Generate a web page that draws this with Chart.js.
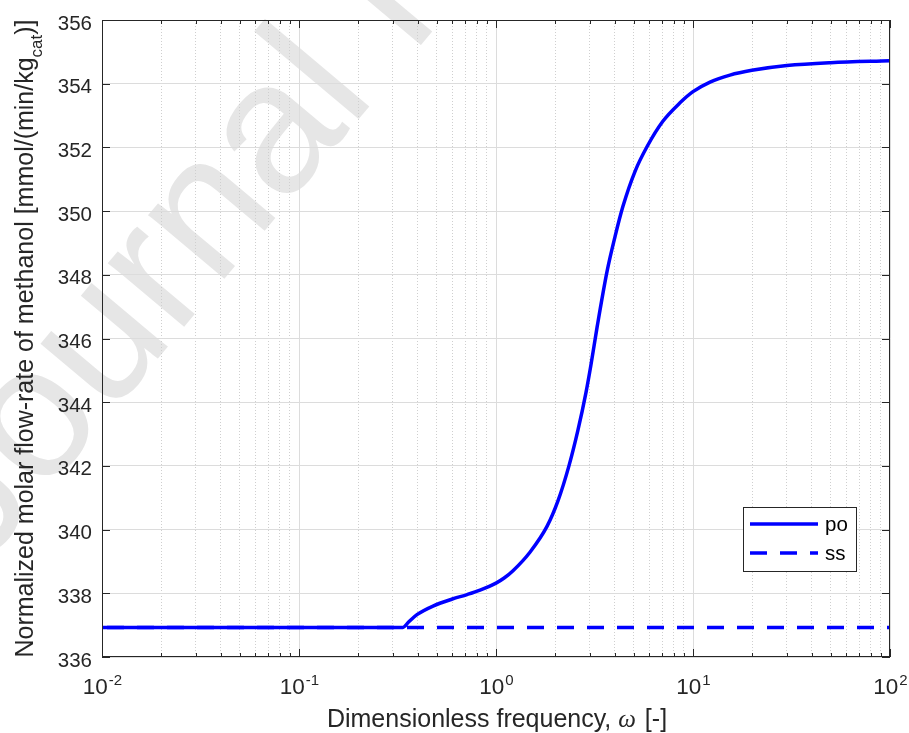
<!DOCTYPE html>
<html>
<head>
<meta charset="utf-8">
<script src="https://cdn.jsdelivr.net/npm/chart.js@4"></script>
<style>
  html, body { margin: 0; padding: 0; background: #fff; }
  canvas { display: block; }
</style>
</head>
<body>
<canvas id="chart" width="909" height="733"></canvas>
<script>
// Dados
const omega = [0.01, 0.337, 0.36, 0.397, 0.479, 0.60, 0.713, 0.83, 1.0, 1.1, 1.22, 1.487, 1.815, 2.063, 2.346, 2.606, 2.862, 3.03, 3.258, 3.66, 4.02, 4.41, 5.08, 5.84, 7.03, 8.59, 10, 12.2, 15.4, 19.9, 30, 50, 100];
const poValues = [336.93, 336.93, 337.1, 337.33, 337.6, 337.82, 337.96, 338.1, 338.32, 338.48, 338.71, 339.29, 340.1, 340.9, 342.0, 343.12, 344.3, 345.15, 346.35, 348.1, 349.2, 350.15, 351.25, 352.02, 352.82, 353.4, 353.75, 354.05, 354.27, 354.42, 354.57, 354.66, 354.72];
const ssOmega = [0.01, 100];
const ssValues = [336.93, 336.93];
const xDecades = [0.01, 0.1, 1, 10, 100];
const xExponents = ['-2', '-1', '0', '1', '2'];
const yTicks = [336, 338, 340, 342, 344, 346, 348, 350, 352, 354, 356];
const seriesNames = ['po', 'ss'];

const FONT = '"Liberation Sans", Arial, sans-serif';
const AXIS_COLOR = '#262626';
const BLUE = '#0000ff';

function isDecade(v) {
    const e = Math.log10(v);
    return Math.abs(e - Math.round(e)) < 1e-9;
}

// ticks menores do eixo log: 2..9 x 10^n
const xAllTicks = [];
for (let i = 0; i < xDecades.length; i++) {
    xAllTicks.push(xDecades[i]);
    if (i < xDecades.length - 1) {
        for (let k = 2; k <= 9; k++) xAllTicks.push(k * xDecades[i]);
    }
}

const matlabAxes = {
    id: 'matlabAxes',
    beforeDraw(chart) {
        const ctx = chart.ctx;
        ctx.save();
        ctx.fillStyle = '#ffffff';
        ctx.fillRect(0, 0, chart.width, chart.height);
        // marca d'água
        ctx.translate(-19, 569);
        ctx.rotate(-50 * Math.PI / 180);
        ctx.font = '188px ' + FONT;
        ctx.fillStyle = '#e6e6e6';
        ctx.textBaseline = 'alphabetic';
        ctx.fillText('Journal Pre-proof', 0, 0);
        ctx.restore();
    },
    afterDraw(chart) {
        const ctx = chart.ctx;
        const { left, right, top, bottom } = chart.chartArea;
        const xs = chart.scales.x;
        const ys = chart.scales.y;

        ctx.save();
        // caixa
        ctx.strokeStyle = AXIS_COLOR;
        ctx.lineWidth = 1;
        ctx.strokeRect(Math.round(left) + 0.5, Math.round(top) + 0.5,
            Math.round(right - left) - 1, Math.round(bottom - top) - 1);

        // ticks para dentro
        ctx.beginPath();
        xs.ticks.forEach(t => {
            const px = Math.round(xs.getPixelForValue(t.value)) + 0.5;
            const len = isDecade(t.value) ? 8 : 4;
            ctx.moveTo(px, bottom); ctx.lineTo(px, bottom - len);
            ctx.moveTo(px, top); ctx.lineTo(px, top + len);
        });
        ys.ticks.forEach(t => {
            const py = Math.round(ys.getPixelForValue(t.value)) + 0.5;
            ctx.moveTo(left, py); ctx.lineTo(left + 8, py);
            ctx.moveTo(right, py); ctx.lineTo(right - 8, py);
        });
        ctx.stroke();

        // rótulos do eixo y
        ctx.fillStyle = AXIS_COLOR;
        ctx.font = '20.5px ' + FONT;
        ctx.textAlign = 'right';
        ctx.textBaseline = 'alphabetic';
        ys.ticks.forEach(t => {
            const py = ys.getPixelForValue(t.value);
            ctx.fillText(String(t.value), left - 10, py + 9.5);
        });

        // rótulos do eixo x (10^n)
        ctx.textAlign = 'left';
        xDecades.forEach((v, i) => {
            const px = xs.getPixelForValue(v);
            ctx.font = '22.5px ' + FONT;
            const wBase = ctx.measureText('10').width;
            ctx.font = '15px ' + FONT;
            const wExp = ctx.measureText(xExponents[i]).width;
            const x0 = px - (wBase + wExp) / 2;
            ctx.font = '22.5px ' + FONT;
            ctx.fillText('10', x0, 694);
            ctx.font = '15px ' + FONT;
            ctx.fillText(xExponents[i], x0 + wBase + 1, 685);
        });

        // título do eixo x
        const partA = 'Dimensionless frequency, ';
        const partB = '\u03C9';
        const partC = ' [-]';
        ctx.font = '25px ' + FONT;
        const wA = ctx.measureText(partA).width;
        const wC = ctx.measureText(partC).width;
        ctx.font = 'italic 25px "Liberation Serif", serif';
        const wB = ctx.measureText(partB).width;
        let tx = (left + right) / 2 - (wA + wB + wC) / 2;
        ctx.font = '25px ' + FONT;
        ctx.fillText(partA, tx, 727);
        ctx.font = 'italic 25px "Liberation Serif", serif';
        ctx.fillText(partB, tx + wA, 727);
        ctx.font = '25px ' + FONT;
        ctx.fillText(partC, tx + wA + wB + 2, 727);

        // título do eixo y com subscrito
        const yA = 'Normalized molar flow-rate of methanol [mmol/(min/kg';
        const yB = 'cat';
        const yC = ')]';
        ctx.font = '25px ' + FONT;
        const w1 = ctx.measureText(yA).width;
        const w3 = ctx.measureText(yC).width;
        ctx.font = '17px ' + FONT;
        const w2 = ctx.measureText(yB).width;
        ctx.save();
        ctx.translate(33, (top + bottom) / 2);
        ctx.rotate(-Math.PI / 2);
        let sx = -(w1 + w2 + w3) / 2;
        ctx.font = '25px ' + FONT;
        ctx.fillText(yA, sx, 0);
        ctx.font = '17px ' + FONT;
        ctx.fillText(yB, sx + w1, 9);
        ctx.font = '25px ' + FONT;
        ctx.fillText(yC, sx + w1 + w2, 0);
        ctx.restore();

        // legenda
        const lx = 743, ly = 507, lw = 113, lh = 64;
        ctx.fillStyle = '#ffffff';
        ctx.fillRect(lx, ly, lw, lh);
        ctx.strokeStyle = AXIS_COLOR;
        ctx.lineWidth = 1;
        ctx.strokeRect(lx + 0.5, ly + 0.5, lw, lh);
        const rows = [ly + 17, ly + 46];
        ctx.strokeStyle = BLUE;
        ctx.lineWidth = 3.5;
        chart.data.datasets.forEach((ds, i) => {
            ctx.setLineDash(ds.borderDash || []);
            ctx.lineDashOffset = 0;
            ctx.beginPath();
            ctx.moveTo(lx + 7, rows[i]);
            ctx.lineTo(lx + 75, rows[i]);
            ctx.stroke();
        });
        ctx.setLineDash([]);
        ctx.fillStyle = '#000000';
        ctx.font = '20.5px ' + FONT;
        ctx.textAlign = 'left';
        chart.data.datasets.forEach((ds, i) => {
            ctx.fillText(ds.label, lx + 82, rows[i] + 7);
        });
        ctx.restore();
    }
};

const ctx = document.getElementById('chart').getContext('2d');
const chart = new Chart(ctx, {
    type: 'line',
    data: {
        datasets: [
            {
                label: seriesNames[0],
                data: omega.map((w, i) => ({ x: w, y: poValues[i] })),
                borderColor: BLUE,
                borderWidth: 3.5,
                pointRadius: 0,
                fill: false,
                cubicInterpolationMode: 'monotone',
                order: 0
            },
            {
                label: seriesNames[1],
                data: ssOmega.map((w, i) => ({ x: w, y: ssValues[i] })),
                borderColor: BLUE,
                borderWidth: 3.5,
                borderDash: [17, 13],
                borderDashOffset: -5,
                pointRadius: 0,
                fill: false,
                order: 1
            }
        ]
    },
    options: {
        responsive: false,
        devicePixelRatio: 1,
        animation: false,
        layout: { padding: { left: 0, top: 20, right: 19, bottom: 0 } },
        scales: {
            x: {
                type: 'logarithmic',
                min: 0.01,
                max: 100,
                afterBuildTicks: scale => { scale.ticks = xAllTicks.map(v => ({ value: v })); },
                afterFit: scale => { scale.height = 76; },
                ticks: { display: false },
                grid: {
                    drawTicks: false,
                    color: c => (c.tick && !isDecade(c.tick.value)) ? '#cfcfcf' : '#dcdcdc',
                    lineWidth: 1
                },
                border: {
                    display: false,
                    dash: c => (c.tick && !isDecade(c.tick.value)) ? [1, 2] : []
                }
            },
            y: {
                type: 'linear',
                min: 336,
                max: 356,
                afterBuildTicks: scale => { scale.ticks = yTicks.map(v => ({ value: v })); },
                afterFit: scale => { scale.width = 102; },
                ticks: { display: false },
                grid: { drawTicks: false, color: '#dcdcdc', lineWidth: 1 },
                border: { display: false }
            }
        },
        plugins: {
            legend: { display: false },
            tooltip: { enabled: false }
        }
    },
    plugins: [matlabAxes]
});
</script>
</body>
</html>
